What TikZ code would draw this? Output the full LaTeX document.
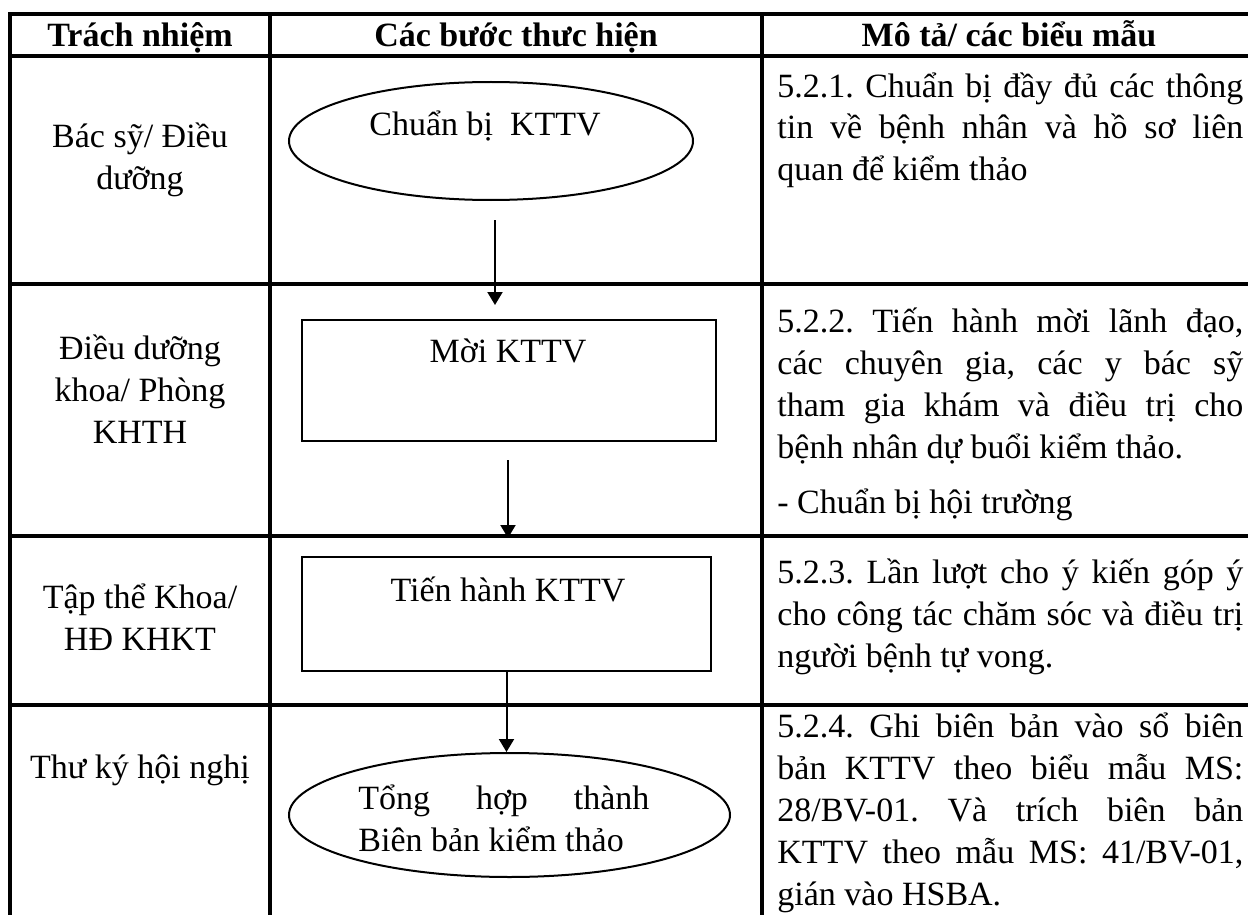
\documentclass[tikz,border=0pt]{standalone}
\usepackage{fontspec}
\setmainfont{Liberation Serif}
\usetikzlibrary{arrows.meta,shapes.geometric,fit}
\newlength{\dw}\setlength{\dw}{233pt}
\newcommand{\jl}[1]{\makebox[\dw][s]{#1}}
\frenchspacing
\begin{document}
\frenchspacing
\begin{tikzpicture}[x=0.5pt,y=-0.5pt,
  grid/.style={line width=1.6pt},
  txt/.style={inner sep=0pt,font=\fontsize{17}{21}\selectfont},
  hdr/.style={inner sep=0pt,font=\fontsize{17}{21}\selectfont\bfseries,anchor=base},
  desc/.style={txt,align=left,anchor=base west},
  role/.style={txt,align=center,anchor=base},
  stepbox/.style={draw,line width=1pt,inner sep=0pt},
  ellip/.style={draw,ellipse,line width=1pt,inner sep=0pt},
  arr/.style={line width=1pt,-{Triangle[width=7.5pt,length=6.5pt]}}]
\useasboundingbox (0,0) rectangle (1248,915);
% table grid
\draw[grid] (10,915) -- (10,14) -- (1248,14);
\draw[grid] (10,56) -- (1248,56);
\draw[grid] (10,284) -- (1248,284);
\draw[grid] (10,536) -- (1248,536);
\draw[grid] (10,705) -- (1248,705);
\draw[grid] (270,14) -- (270,915);
\draw[grid] (762,14) -- (762,915);
% header
\node[hdr] (h1) at (140,47) {Trách nhiệm};
\node[hdr] (h2) at (516,47) {Các bước thưc hiện};
\node[hdr] (h3) at (1009,47) {Mô tả/ các biểu mẫu};
% roles (anchor = baseline of last line)
\node[role] (r1) at (140,190) {Bác sỹ/ Điều\\dưỡng};
\node[role] (r2) at (140,443) {Điều dưỡng\\khoa/ Phòng\\KHTH};
\node[role] (r3) at (140,650) {Tập thể Khoa/\\HĐ KHKT};
\node[role] (r4) at (140,778) {Thư ký hội nghị};
% steps
\node[ellip,minimum width=202pt,minimum height=59pt] (s1) at (491,141) {};
\node[txt,anchor=base] (t1) at (485,135) {Chuẩn bị\ \ KTTV};
\node[stepbox,fit={(302,320)(716,441)}] (s2) {};
\node[txt,anchor=base] (t2) at (508,362) {Mời KTTV};
\node[stepbox,fit={(302,557)(711,671)}] (s3) {};
\node[txt,anchor=base] (t3) at (508,601) {Tiến hành KTTV};
\node[ellip,minimum width=220.5pt,minimum height=62pt] (s4) at (509.5,815) {};
\node[txt,align=left,anchor=base west] (t4) at (358,851) {\makebox[145.5pt][s]{Tổng hợp thành}\\Biên bản kiểm thảo};
% arrows
\coordinate (a1s) at (495,220);
\coordinate (a1e) at (495,305);
\draw[arr] (a1s) -- (a1e);
\coordinate (a2s) at (508,460);
\coordinate (a2e) at (508,538);
\draw[arr] (a2s) -- (a2e);
\draw[arr] (s3.south) -- (s3.south |- s4.north);
% descriptions (anchor = baseline of last line)
\node[desc] (d1) at (777,181) {\jl{5.2.1. Chuẩn bị đầy đủ các thông}\\\jl{tin về bệnh nhân và hồ sơ liên}\\quan để kiểm thảo};
\node[desc] (d2) at (777,513) {\jl{5.2.2. Tiến hành mời lãnh đạo,}\\\jl{các chuyên gia, các y bác sỹ}\\\jl{tham gia khám và điều trị cho}\\bệnh nhân dự buổi kiểm thảo.\\[6.5pt]- Chuẩn bị hội trường};
\node[desc] (d3) at (777,667) {\jl{5.2.3. Lần lượt cho ý kiến góp ý}\\\jl{cho công tác chăm sóc và điều trị}\\người bệnh tự vong.};
\node[desc] (d4) at (777,905) {\jl{5.2.4. Ghi biên bản vào sổ biên}\\\jl{bản KTTV theo biểu mẫu MS:}\\\jl{28/BV-01. Và trích biên bản}\\\jl{KTTV theo mẫu MS: 41/BV-01,}\\gián vào HSBA.};
\end{tikzpicture}
\end{document}
